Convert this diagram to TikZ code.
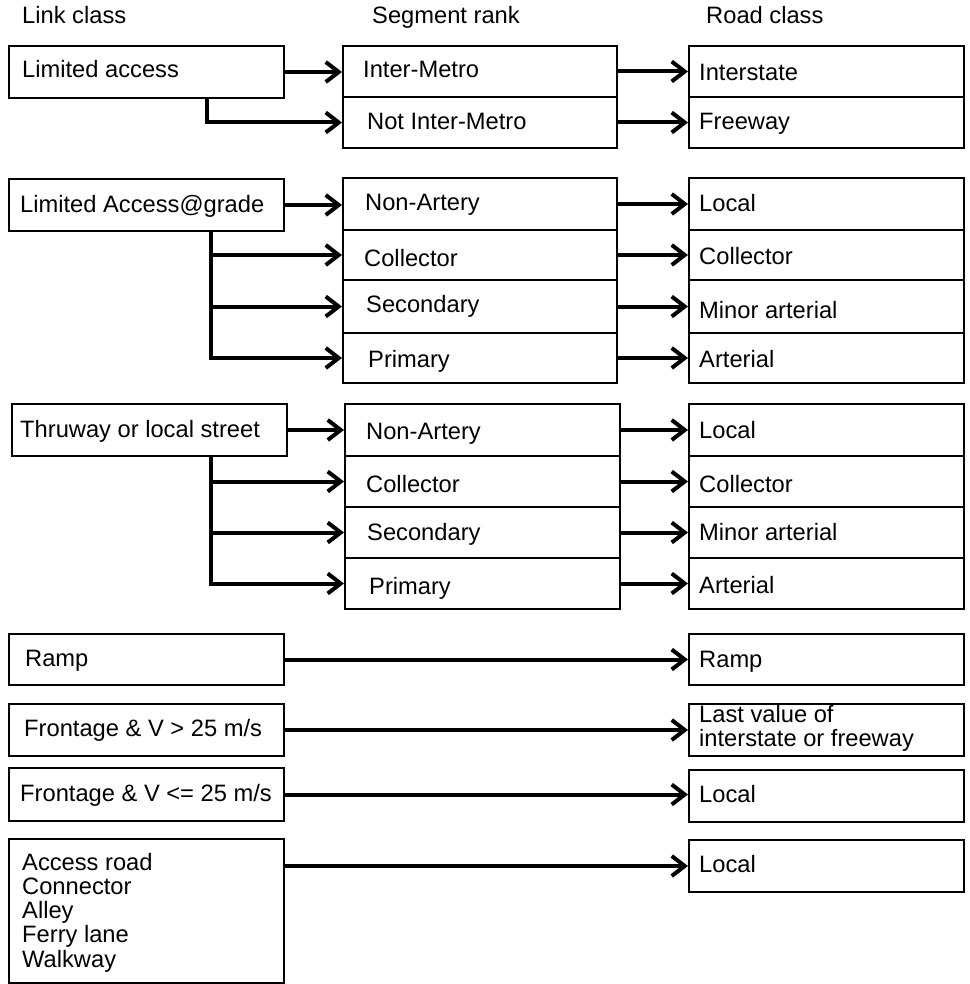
\documentclass[tikz,border=0pt]{standalone}
\usepackage{fontspec}
\setmainfont{Liberation Sans}
\usetikzlibrary{arrows.meta,fit}
\begin{document}
\begin{tikzpicture}[x=1pt,y=-1pt,
  box/.style={draw, line width=2pt, inner sep=0pt, rectangle},
  txt/.style={anchor=base west, inner sep=0pt, font=\fontsize{23.7}{24}\selectfont},
  arr/.style={line width=4pt, -{Straight Barb[length=13pt,width=20pt]}}]
\useasboundingbox (0,0) rectangle (969,984);
% headers
\node[txt] (h1) at (22,24) {Link class};
\node[txt] (h2) at (372,24) {Segment rank};
\node[txt] (h3) at (706,24) {Road class};
% branch x positions
\coordinate (b1) at (207,0);
\coordinate (b2) at (211,0);
\coordinate (b3) at (211,0);
% ---------- block 1
\node[box, fit={(9,46) (284,98)}] (la) {};
\node[box, fit={(343,46) (617,97)}] (im) {};
\node[box, fit={(343,97) (617,148)}] (nim) {};
\node[box, fit={(689,46) (964,97)}] (is) {};
\node[box, fit={(689,97) (964,148)}] (fw) {};
\node[txt] (la-t) at (22,78) {Limited access};
\node[txt] (im-t) at (363,78) {Inter-Metro};
\node[txt] (nim-t) at (367,130) {Not Inter-Metro};
\node[txt] (is-t) at (699,81) {Interstate};
\node[txt] (fw-t) at (699,130) {Freeway};
\draw[arr] (la.east) -- (la.east -| im.west);
\draw[arr] (la.south -| b1) |- (nim.west);
\draw[arr] (im.east) -- (im.east -| is.west);
\draw[arr] (nim.east) -- (nim.east -| fw.west);
% ---------- block 2
\node[box, fit={(9,179) (284,231)}] (lag) {};
\node[box, fit={(343,178) (617,230)}] (na2) {};
\node[box, fit={(343,230) (617,280)}] (co2) {};
\node[box, fit={(343,280) (617,333)}] (se2) {};
\node[box, fit={(343,333) (617,383)}] (pr2) {};
\node[box, fit={(689,178) (964,230)}] (lo2) {};
\node[box, fit={(689,230) (964,280)}] (rc2) {};
\node[box, fit={(689,280) (964,333)}] (mi2) {};
\node[box, fit={(689,333) (964,383)}] (ar2) {};
\node[txt] (lag-t) at (20,213) {Limited Access@grade};
\node[txt] (na2-t) at (365,211) {Non-Artery};
\node[txt] (co2-t) at (364,266) {Collector};
\node[txt] (se2-t) at (366,312) {Secondary};
\node[txt] (pr2-t) at (368,367) {Primary};
\node[txt] (lo2-t) at (699,212) {Local};
\node[txt] (rc2-t) at (699,264) {Collector};
\node[txt] (mi2-t) at (699,318) {Minor arterial};
\node[txt] (ar2-t) at (699,367) {Arterial};
\draw[arr] (lag.east) -- (lag.east -| na2.west);
\draw[arr] (lag.south -| b2) |- (co2.west);
\draw[arr] (lag.south -| b2) |- (se2.west);
\draw[arr] (lag.south -| b2) |- (pr2.west);
\draw[arr] (na2.east) -- (na2.east -| lo2.west);
\draw[arr] (co2.east) -- (co2.east -| rc2.west);
\draw[arr] (se2.east) -- (se2.east -| mi2.west);
\draw[arr] (pr2.east) -- (pr2.east -| ar2.west);
% ---------- block 3
\node[box, fit={(12,404) (287,456)}] (thr) {};
\node[box, fit={(345,404) (620,456)}] (na3) {};
\node[box, fit={(345,456) (620,507)}] (co3) {};
\node[box, fit={(345,507) (620,558)}] (se3) {};
\node[box, fit={(345,558) (620,609)}] (pr3) {};
\node[box, fit={(689,404) (964,456)}] (lo3) {};
\node[box, fit={(689,456) (964,507)}] (rc3) {};
\node[box, fit={(689,507) (964,558)}] (mi3) {};
\node[box, fit={(689,558) (964,609)}] (ar3) {};
\node[txt] (thr-t) at (20,437) {Thruway or local street};
\node[txt] (na3-t) at (366,439) {Non-Artery};
\node[txt] (co3-t) at (366,492) {Collector};
\node[txt] (se3-t) at (367,540) {Secondary};
\node[txt] (pr3-t) at (369,594) {Primary};
\node[txt] (lo3-t) at (699,438) {Local};
\node[txt] (rc3-t) at (699,492) {Collector};
\node[txt] (mi3-t) at (699,540) {Minor arterial};
\node[txt] (ar3-t) at (699,593) {Arterial};
\draw[arr] (thr.east) -- (thr.east -| na3.west);
\draw[arr] (thr.south -| b3) |- (co3.west);
\draw[arr] (thr.south -| b3) |- (se3.west);
\draw[arr] (thr.south -| b3) |- (pr3.west);
\draw[arr] (na3.east) -- (na3.east -| lo3.west);
\draw[arr] (co3.east) -- (co3.east -| rc3.west);
\draw[arr] (se3.east) -- (se3.east -| mi3.west);
\draw[arr] (pr3.east) -- (pr3.east -| ar3.west);
% ---------- block 4
\node[box, fit={(9,634) (284,685)}] (ramp) {};
\node[box, fit={(9,704) (284,756)}] (fg) {};
\node[box, fit={(9,768) (284,821)}] (fl) {};
\node[box, fit={(9,839) (284,983)}] (acc) {};
\node[box, fit={(689,634) (964,685)}] (rr) {};
\node[box, fit={(689,704) (964,756)}] (lv) {};
\node[box, fit={(689,770) (964,822)}] (loc1) {};
\node[box, fit={(689,840) (964,892)}] (loc2) {};
\node[txt] (ramp-t) at (25,666) {Ramp};
\node[txt] (fg-t) at (24,736) {Frontage \& V > 25 m/s};
\node[txt] (fl-t) at (20,801) {Frontage \& V <= 25 m/s};
\node[txt] (acc-t) at (22,870) {\begin{tabular}[t]{@{}l@{}}Access road\\Connector\\Alley\\Ferry lane\\Walkway\end{tabular}};
\node[txt] (rr-t) at (699,667) {Ramp};
\node[txt] (lv-t) at (699,722) {\begin{tabular}[t]{@{}l@{}}Last value of\\interstate or freeway\end{tabular}};
\node[txt] (loc1-t) at (699,802) {Local};
\node[txt] (loc2-t) at (699,872) {Local};
\draw[arr] (ramp.east) -- (ramp.east -| rr.west);
\draw[arr] (fg.east) -- (fg.east -| lv.west);
\draw[arr] (fl.east) -- (fl.east -| loc1.west);
\draw[arr] (loc2.west -| acc.east) -- (loc2.west);
\end{tikzpicture}
\end{document}
